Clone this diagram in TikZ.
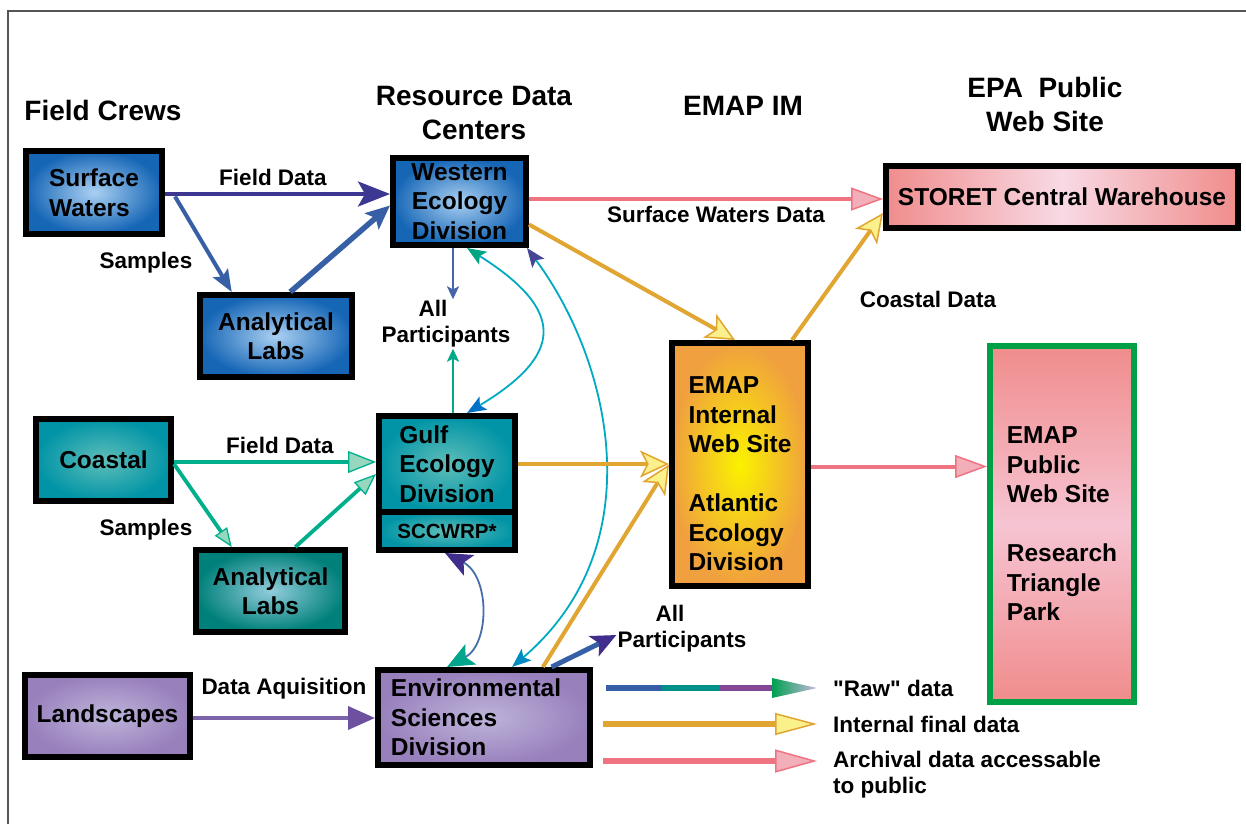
\documentclass[tikz,border=0pt]{standalone}
\usepackage{fontspec}
\setmainfont{Liberation Sans}[Ligatures=TeXOff]
\usetikzlibrary{arrows.meta,calc}
\definecolor{blueIn}{RGB}{170,208,242}
\definecolor{blueOut}{RGB}{22,102,182}
\definecolor{tealIn}{RGB}{95,190,185}
\definecolor{tealOut}{RGB}{0,148,166}
\definecolor{teal2In}{RGB}{145,205,220}
\definecolor{teal2Out}{RGB}{0,128,122}
\definecolor{purpIn}{RGB}{190,180,218}
\definecolor{purpOut}{RGB}{152,128,188}
\definecolor{orIn}{RGB}{250,242,0}
\definecolor{orOut}{RGB}{240,160,62}
\definecolor{pkA}{RGB}{240,140,140}
\definecolor{pkB}{RGB}{248,218,228}
\definecolor{pkC}{RGB}{246,196,210}
\definecolor{grnBorder}{RGB}{0,160,70}
\definecolor{navyc}{RGB}{60,55,145}
\definecolor{steel}{RGB}{55,95,165}
\definecolor{thinblue}{RGB}{70,100,170}
\definecolor{tealline}{RGB}{0,170,135}
\definecolor{cyanl}{RGB}{0,170,195}
\definecolor{headgreen}{RGB}{0,165,130}
\definecolor{headblue}{RGB}{0,115,200}
\definecolor{headnavy}{RGB}{70,70,150}
\definecolor{headblue2}{RGB}{0,140,195}
\definecolor{sccline}{RGB}{70,110,170}
\definecolor{headpurple}{RGB}{65,45,140}
\definecolor{headteal}{RGB}{0,165,140}
\definecolor{orangel}{RGB}{225,165,50}
\definecolor{yellowf}{RGB}{250,240,140}
\definecolor{pinkl}{RGB}{240,115,130}
\definecolor{pinkf}{RGB}{242,175,185}
\definecolor{greenl}{RGB}{0,175,140}
\definecolor{greenf}{RGB}{150,215,190}
\definecolor{purplel}{RGB}{125,100,170}
\definecolor{purpleh}{RGB}{110,80,160}
\definecolor{rawteal}{RGB}{0,145,140}
\definecolor{rawpurp}{RGB}{130,70,150}
\definecolor{rawgreen}{RGB}{0,160,80}
\definecolor{rawmid}{RGB}{150,135,195}
\definecolor{rawlav}{RGB}{200,185,225}
\definecolor{framec}{RGB}{85,85,85}
\newcommand\bxfont{\fontsize{24.5}{29.5}\selectfont\bfseries}
\newcommand\ttlfont{\fontsize{28}{34}\selectfont\bfseries}
\newcommand\lblfont{\fontsize{22.5}{26}\selectfont\bfseries}
\newcommand\smfont{\fontsize{20.5}{24}\selectfont\bfseries}
\tikzset{
  box/.style={draw=black, line width=6pt, inner sep=0pt, align=left, font=\bxfont, text=black},
  bluebox/.style={box, inner color=blueIn, outer color=blueOut},
  tealbox/.style={box, inner color=tealIn, outer color=tealOut},
  teal2box/.style={box, inner color=teal2In, outer color=teal2Out},
  purpbox/.style={box, inner color=purpIn, outer color=purpOut},
  ttl/.style={font=\ttlfont, inner sep=0pt, align=center},
  lbl/.style={font=\lblfont, inner sep=1pt, align=center},
  lgd/.style={font=\lblfont, inner sep=0pt, align=left, anchor=west},
  orangearrow/.style={draw=orangel, line width=4pt, -{Stealth[length=29pt,width=27pt,inset=7pt,fill=yellowf,line width=1.5pt]}},
  pinkarrow/.style={draw=pinkl, line width=4pt, -{Triangle[length=32pt,width=23pt,fill=pinkf,line width=1.5pt]}},
  greenarrow/.style={draw=greenl, line width=3.8pt},
  gtip/.style={-{Triangle[length=#1,width=0.78*#1,fill=greenf,line width=1.3pt]}},
}
\begin{document}
\begin{tikzpicture}[x=1pt,y=-1pt]
\useasboundingbox (0,0) rectangle (1246,824);
\fill[white] (0,0) rectangle (1246,824);
\draw[framec, line width=1.5pt] (8,824) -- (8,11) -- (1246,11);

% titles
\node[ttl] (tfc) at (103,110) {Field Crews};
\node[ttl] (trdc) at (474,113) {Resource Data\\Centers};
\node[ttl] (temap) at (743,106) {EMAP IM};
\node[ttl] (tepa) at (1045,104) {EPA\ \ Public\\Web Site};

% boxes
\node[bluebox, minimum width=136pt, minimum height=83pt] (sw) at (94,192.5) {Surface\\Waters};
\node[bluebox, align=center, minimum width=133pt, minimum height=87pt] (wed) at (459.5,201.5) {Western\\Ecology\\Division};
\node[bluebox, align=center, minimum width=152pt, minimum height=82pt] (al1) at (276,336) {Analytical\\Labs};
\node[box, align=center, left color=pkA, right color=pkA, middle color=pkB, minimum width=352pt, minimum height=62pt] (storet) at (1062,197) {STORET Central Warehouse};
\node[box, inner color=orIn, outer color=orOut, minimum width=136pt, minimum height=243pt] (emapi) at (740,464.5) {\rule{0pt}{36pt}EMAP\\Internal\\Web Site\\[29.5pt]Atlantic\\Ecology\\Division};
\node[box, draw=grnBorder, top color=pkA, bottom color=pkA, middle color=pkC, minimum width=144pt, minimum height=356pt] (emapp) at (1062,524) {EMAP\\Public\\Web Site\\[29.5pt]Research\\Triangle\\Park};
\node[tealbox, align=center, minimum width=135pt, minimum height=82pt] (coastal) at (103.5,460) {Coastal};
\node[tealbox, minimum width=136pt, minimum height=96pt] (gulf) at (447,464) {Gulf\\Ecology\hspace*{-6pt}\\Division};
\node[tealbox, align=center, font=\smfont, minimum width=136pt, minimum height=38pt] (sccwrp) at (447,531) {SCCWRP*};
\node[teal2box, align=center, minimum width=149pt, minimum height=82pt] (al2) at (270.5,591) {Analytical\\Labs};
\node[purpbox, align=center, minimum width=165pt, minimum height=82pt] (land) at (107.5,716) {Landscapes};
\node[purpbox, minimum width=212pt, minimum height=95pt] (esd) at (484,717.5) {Environmental\hspace*{16pt}\\Sciences\\Division};

% labels
\node[lbl] (lfd1) at (273,177) {Field Data};
\node[lbl] (ls1) at (146,263) {Samples};
\node[lbl] (allp1) at (446,324) {\hspace*{-26pt}All\\Participants};
\node[lbl] (lswd) at (716,214) {Surface Waters Data};
\node[lbl] (lcd) at (928,299) {Coastal Data};
\node[lbl] (lfd2) at (280,445) {Field Data};
\node[lbl] (ls2) at (146,530) {Samples};
\node[lbl] (lda) at (284,689) {Data Aquisition};
\node[lbl] (allp2) at (682,629) {\hspace*{-24pt}All\\Participants};

% blue arrows
\draw[navyc, line width=3.5pt, -{Stealth[length=32pt,width=25pt,inset=7pt]}] ([yshift=-1.5pt]sw.east) -- ([yshift=-1.5pt]sw.east -| wed.west);
\draw[steel, line width=4pt, -{Stealth[length=22pt,width=17pt,inset=4pt]}] ([xshift=10pt,yshift=-4pt]sw.east) -- ($(al1.north west)!0.22!(al1.north east)$);
\draw[steel, line width=5.5pt, -{Stealth[length=24pt,width=21pt,inset=5pt]}] ($(al1.north west)!0.59!(al1.north east)$) -- ([yshift=-4pt]wed.west);
\draw[thinblue, line width=2pt, -{Stealth[length=13pt,width=12pt,inset=3pt]}] ([xshift=-6.5pt]wed.south) -- ([xshift=-6.5pt]wed.south |- allp1.north);
\draw[tealline, line width=2pt, -{Stealth[length=13pt,width=12pt,inset=3pt]}] ([xshift=6pt]gulf.north) -- ([xshift=6pt]gulf.north |- allp1.south);

% curved connectors
\draw[cyanl, line width=1.8pt, {Stealth[length=19pt,width=15pt,inset=4pt,color=headgreen]}-{Stealth[length=19pt,width=15pt,inset=4pt,color=headblue]}] ([xshift=7.5pt]wed.south) .. controls +(98,62) and +(98,-59) .. ([xshift=20pt]gulf.north);
\draw[cyanl, line width=1.8pt, {Stealth[length=19pt,width=15pt,inset=4pt,color=headnavy]}-{Stealth[length=19pt,width=15pt,inset=4pt,color=headblue2]}] ([xshift=-2pt]wed.south east) .. controls +(83,112) and +(143,-122) .. ([xshift=28pt]esd.north);
\draw[sccline, line width=1.8pt, {Stealth[length=27pt,width=23pt,inset=6pt,color=headpurple]}-{Stealth[length=27pt,width=23pt,inset=6pt,color=headteal]}] ([xshift=-2pt]sccwrp.south) .. controls +(45,23) and +(43,-23) .. ([xshift=-37pt]esd.north);

% ESD to all participants
\draw[steel, line width=5pt, -{Stealth[length=25pt,width=22pt,inset=6pt,color=headpurple]}] ($(esd.north west)!0.81!(esd.north east)$) -- ([yshift=-6pt]allp2.west);

% orange arrows
\draw[orangearrow] ([yshift=-23pt]wed.east) -- ([xshift=-5pt]emapi.north);
\draw[orangearrow] (gulf.east) -- (gulf.east -| emapi.west);
\draw[orangearrow] ($(esd.north west)!0.77!(esd.north east)$) -- (emapi.west);
\draw[orangearrow] ([xshift=52pt]emapi.north) -- ([yshift=-16pt]storet.west);

% pink arrows
\draw[pinkarrow] ([yshift=2.5pt]wed.east) -- ([yshift=2.5pt]wed.east -| storet.west);
\draw[pinkarrow] ([yshift=-2pt]emapi.east) -- ([yshift=-2pt]emapi.east -| emapp.west);

% green arrows
\draw[greenarrow, gtip=28pt] ([yshift=-2pt]coastal.east) -- ([yshift=-2pt]coastal.east -| gulf.west);
\draw[greenarrow, gtip=19pt] ([yshift=-4pt]coastal.east) -- ($(al2.north west)!0.25!(al2.north east)$);
\draw[greenarrow, gtip=22pt] ($(al2.north west)!0.66!(al2.north east)$) -- ([yshift=-10pt]gulf.west);

% purple arrow
\draw[purplel, line width=3.8pt, -{Triangle[length=27pt,width=23pt,color=purpleh]}] ([yshift=-2pt]land.east) -- ([yshift=-2pt]land.east -| esd.west);

% legend
\coordinate (lg1a) at (606,688);
\coordinate (lg1b) at (662,688);
\coordinate (lg1c) at (719,688);
\coordinate (lg1d) at (772,688);
\coordinate (lg1e) at (817,688);
\draw[steel, line width=5.5pt] (lg1a) -- (lg1b);
\draw[rawteal, line width=5.5pt] (lg1b) -- (lg1c);
\draw[rawpurp, line width=5.5pt] (lg1c) -- (lg1d);
\shade[left color=rawgreen, middle color=rawmid, right color=rawlav] ([yshift=10pt]lg1d) -- (lg1e) -- ([yshift=-10pt]lg1d) -- cycle;
\coordinate (lg2a) at (603,724);
\coordinate (lg2b) at (817,724);
\draw[orangel, line width=5.5pt, -{Triangle[length=42pt,width=22pt,fill=yellowf,line width=1.5pt]}] (lg2a) -- (lg2b);
\coordinate (lg3a) at (603,761);
\coordinate (lg3b) at (817,761);
\draw[pinkl, line width=5.5pt, -{Triangle[length=42pt,width=23pt,fill=pinkf,line width=1.5pt]}] (lg3a) -- (lg3b);
\node[lgd] (t1) at (833,688) {"Raw" data};
\node[lgd] (t2) at (833,724) {Internal final data};
\node[lgd] (t3) at (833,775) {Archival data accessable\\to public};
\end{tikzpicture}
\end{document}
